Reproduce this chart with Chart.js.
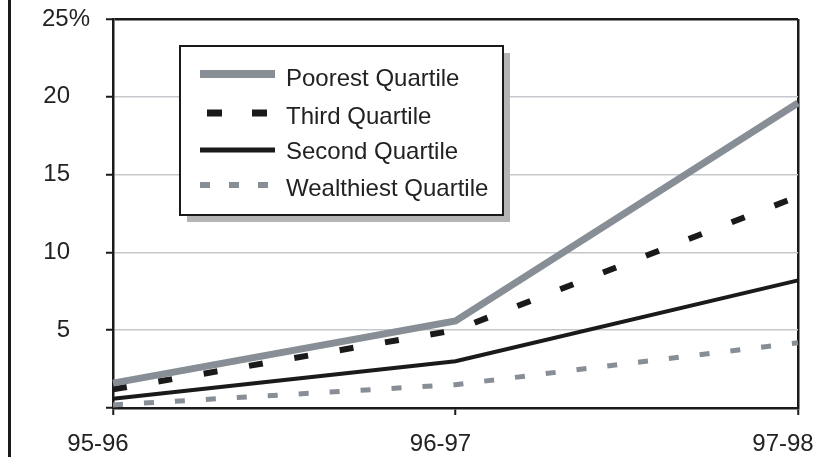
<!DOCTYPE html>
<html>
<head>
<meta charset="utf-8">
<script src="https://cdn.jsdelivr.net/npm/chart.js"></script>
<style>
  html, body { margin: 0; padding: 0; background: #fff; }
  #wrap { width: 820px; height: 457px; }
</style>
</head>
<body>
<div id="wrap"><canvas id="quartileChart" width="820" height="457"></canvas></div>
<script>
// school years
const years = ["95-96", "96-97", "97-98"];

// percent values
const poorest = [1.6, 5.6, 19.6];
const third = [1.2, 5.0, 13.6];
const second = [0.6, 3.0, 8.2];
const wealthiest = [0.2, 1.5, 4.2];

const seriesNames = ["Poorest Quartile", "Third Quartile", "Second Quartile", "Wealthiest Quartile"];

const FONT = "'Liberation Sans', Arial, sans-serif";
const GRAY = "#878e95";
const BLACK = "#1a1a1a";

// left border line and legend box
const framePlugin = {
  id: "frame",
  beforeDraw(chart) {
    const ctx = chart.ctx;
    ctx.save();
    ctx.fillStyle = "#fff";
    ctx.fillRect(0, 0, chart.width, chart.height);
    ctx.fillStyle = BLACK;
    ctx.fillRect(8, 0, 3, chart.height);
    ctx.restore();
  },
  afterDraw(chart) {
    const ctx = chart.ctx;
    const box = { x: 180, y: 46, w: 323, h: 169 };
    ctx.save();
    // shadow
    ctx.fillStyle = "#b4b4b4";
    ctx.fillRect(box.x + 7, box.y + 7, box.w, box.h);
    ctx.fillStyle = "#fff";
    ctx.fillRect(box.x, box.y, box.w, box.h);
    ctx.strokeStyle = BLACK;
    ctx.lineWidth = 2;
    ctx.strokeRect(box.x, box.y, box.w, box.h);

    const lineYs = [74, 113, 150, 185];
    const textYs = [86, 124, 159, 196];
    const legendDash = [[], [15, 30], [], [10, 19]];
    const dashOffset = [0, -7, 0, 0];
    chart.data.datasets.forEach((ds, i) => {
      ctx.beginPath();
      ctx.strokeStyle = ds.borderColor;
      ctx.lineWidth = ds.borderWidth + 1;
      ctx.lineCap = "butt";
      ctx.setLineDash(legendDash[i]);
      ctx.lineDashOffset = dashOffset[i];
      ctx.moveTo(200, lineYs[i]);
      ctx.lineTo(275, lineYs[i]);
      ctx.stroke();
      ctx.setLineDash([]);
      ctx.fillStyle = "#222";
      ctx.font = "24px " + FONT;
      ctx.textBaseline = "alphabetic";
      ctx.textAlign = "left";
      ctx.fillText(ds.label, 286, textYs[i]);
    });
    ctx.restore();
  }
};

new Chart(document.getElementById("quartileChart"), {
  type: "line",
  data: {
    labels: years,
    datasets: [
      { label: seriesNames[0], data: poorest, borderColor: GRAY, borderWidth: 7, borderDash: [] },
      { label: seriesNames[1], data: third, borderColor: BLACK, borderWidth: 6, borderDash: [14, 32] },
      { label: seriesNames[2], data: second, borderColor: BLACK, borderWidth: 4, borderDash: [] },
      { label: seriesNames[3], data: wealthiest, borderColor: GRAY, borderWidth: 5, borderDash: [10, 21] }
    ]
  },
  options: {
    responsive: false,
    animation: false,
    layout: { padding: { top: 19, right: 22, left: 0, bottom: 0 } },
    elements: {
      point: { radius: 0 },
      line: { tension: 0, borderCapStyle: "butt", fill: false }
    },
    plugins: {
      legend: { display: false },
      tooltip: { enabled: false }
    },
    scales: {
      x: {
        offset: false,
        border: { color: BLACK, width: 2.5 },
        grid: {
          color: (c) => (c.index === years.length - 1 ? BLACK : "rgba(0,0,0,0)"),
          lineWidth: 2.5,
          tickColor: BLACK,
          tickWidth: 2,
          tickLength: 7
        },
        ticks: {
          color: "#222",
          font: { family: FONT, size: 24 },
          padding: 15,
          labelOffset: -15,
          maxRotation: 0,
          autoSkip: false
        },
        afterFit(scale) {
          scale.height = 49;
          scale.paddingLeft = 0;
          scale.paddingRight = 0;
        }
      },
      y: {
        min: 0,
        max: 25,
        border: { color: BLACK, width: 2.5 },
        grid: {
          color: (c) => {
            const v = c.tick ? c.tick.value : 0;
            if (v === 25) return BLACK;
            if (v === 0) return "rgba(0,0,0,0)";
            return "#c4c8cc";
          },
          lineWidth: (c) => (c.tick && c.tick.value === 25 ? 2.5 : 1.5),
          tickColor: BLACK,
          tickWidth: 2,
          tickLength: 7
        },
        ticks: {
          stepSize: 5,
          color: "#222",
          font: { family: FONT, size: 24 },
          padding: 16,
          callback: (v) => {
            if (v === 0) return "";
            if (v === 25) return "25%";
            return v + "   ";
          }
        },
        afterFit(scale) {
          scale.width = 113;
          scale.paddingTop = 0;
          scale.paddingBottom = 0;
        }
      }
    }
  },
  plugins: [framePlugin]
});
</script>
</body>
</html>
